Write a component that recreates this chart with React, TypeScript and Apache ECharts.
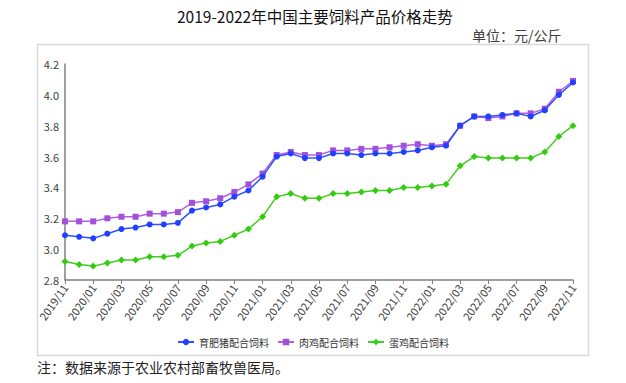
import React, { useEffect, useRef } from 'react';
import * as echarts from 'echarts';

const months = [
  '2019/11', '2019/12', '2020/01', '2020/02', '2020/03', '2020/04', '2020/05', '2020/06', '2020/07',
  '2020/08', '2020/09', '2020/10', '2020/11', '2020/12', '2021/01', '2021/02', '2021/03', '2021/04',
  '2021/05', '2021/06', '2021/07', '2021/08', '2021/09', '2021/10', '2021/11', '2021/12', '2022/01',
  '2022/02', '2022/03', '2022/04', '2022/05', '2022/06', '2022/07', '2022/08', '2022/09', '2022/10',
  '2022/11',
];

const pigFeed = [
  3.09, 3.08, 3.07, 3.10, 3.13, 3.14, 3.16, 3.16, 3.17, 3.25, 3.27, 3.29, 3.34, 3.38,
  3.47, 3.60, 3.62, 3.59, 3.59, 3.62, 3.62, 3.61, 3.62, 3.62, 3.63, 3.64, 3.66, 3.67,
  3.80, 3.86, 3.86, 3.87, 3.88, 3.86, 3.90, 4.00, 4.08,
];

const broilerFeed = [
  3.18, 3.18, 3.18, 3.20, 3.21, 3.21, 3.23, 3.23, 3.24, 3.30, 3.31, 3.33, 3.37, 3.42,
  3.49, 3.61, 3.63, 3.61, 3.61, 3.64, 3.64, 3.65, 3.65, 3.66, 3.67, 3.68, 3.67, 3.68,
  3.80, 3.86, 3.85, 3.86, 3.88, 3.88, 3.91, 4.02, 4.09,
];

const layerFeed = [
  2.92, 2.90, 2.89, 2.91, 2.93, 2.93, 2.95, 2.95, 2.96, 3.02, 3.04, 3.05, 3.09, 3.13,
  3.21, 3.34, 3.36, 3.33, 3.33, 3.36, 3.36, 3.37, 3.38, 3.38, 3.40, 3.40, 3.41, 3.42,
  3.54, 3.60, 3.59, 3.59, 3.59, 3.59, 3.63, 3.73, 3.80,
];

const seriesNames = ['育肥猪配合饲料', '肉鸡配合饲料', '蛋鸡配合饲料'];
const titleText = '2019-2022年中国主要饲料产品价格走势';
const unitText = '单位：元/公斤';
const noteText = '注：数据来源于农业农村部畜牧兽医局。';

const FONT = '"Noto Sans CJK SC", "Noto Sans", sans-serif';

export default function App() {
  const ref = useRef<HTMLDivElement>(null);

  useEffect(() => {
    if (!ref.current) return;
    const chart = echarts.init(ref.current, null, { renderer: 'svg' });
    const axisColor = '#808080';
    chart.setOption({
      animation: false,
      backgroundColor: '#ffffff',
      textStyle: { fontFamily: FONT },
      title: {
        text: titleText,
        left: 172,
        top: 3,
        textStyle: { fontSize: 15.5, fontWeight: 'normal', color: '#111', fontFamily: FONT },
      },
      graphic: [
        {
          type: 'rect',
          shape: { x: 37.5, y: 44.5, width: 551, height: 311 },
          style: { fill: 'none', stroke: '#d9d9d9', lineWidth: 1.5 },
          silent: true,
        },
        {
          type: 'text',
          x: 472,
          y: 35,
          style: { text: unitText, font: `14px ${FONT}`, fill: '#404040', verticalAlign: 'middle' },
        },
        {
          type: 'text',
          x: 37,
          y: 367,
          style: { text: noteText, font: `14px ${FONT}`, fill: '#222', verticalAlign: 'middle' },
        },
      ],
      legend: {
        data: seriesNames,
        top: 332,
        left: 'center',
        itemGap: 8,
        itemWidth: 16,
        itemHeight: 8,
        textStyle: { fontSize: 10, color: '#333', fontFamily: FONT },
      },
      grid: { left: 65, right: 53, top: 64, bottom: 103, containLabel: false },
      xAxis: {
        type: 'category',
        data: months,
        boundaryGap: false,
        axisLine: { lineStyle: { color: axisColor, width: 1.5 } },
        axisTick: { show: true, interval: 1, length: 4, lineStyle: { color: axisColor } },
        axisLabel: { interval: 1, rotate: 55, fontSize: 11, color: '#404040', margin: 5, fontFamily: FONT },
        splitLine: { show: false },
      },
      yAxis: {
        type: 'value',
        min: 2.8,
        max: 4.2,
        interval: 0.2,
        axisLine: { show: true, lineStyle: { color: axisColor, width: 1.5 } },
        axisTick: { show: false },
        splitLine: { show: false },
        axisLabel: {
          fontSize: 11,
          color: '#404040',
          margin: 6,
          fontFamily: FONT,
          formatter: (v: number) => v.toFixed(1),
        },
      },
      series: [
        {
          name: seriesNames[0],
          type: 'line',
          data: pigFeed,
          z: 4,
          symbol: 'circle',
          symbolSize: 6,
          color: '#2040ff',
          lineStyle: { width: 1.5, color: '#3050ff' },
          itemStyle: { color: '#2040ff' },
        },
        {
          name: seriesNames[1],
          type: 'line',
          data: broilerFeed,
          z: 3,
          symbol: 'rect',
          symbolSize: 6,
          color: '#a24fdc',
          lineStyle: { width: 1.5, color: '#b060e0' },
          itemStyle: { color: '#a24fdc' },
        },
        {
          name: seriesNames[2],
          type: 'line',
          data: layerFeed,
          z: 3,
          symbol: 'diamond',
          symbolSize: 7,
          color: '#33cc11',
          lineStyle: { width: 1.5, color: '#44cc22' },
          itemStyle: { color: '#33cc11' },
        },
      ],
    });
    return () => chart.dispose();
  }, []);

  return (
    <div
      ref={ref}
      style={{ position: 'fixed', left: 0, top: 0, width: 626, height: 383, background: '#fff' }}
    />
  );
}
